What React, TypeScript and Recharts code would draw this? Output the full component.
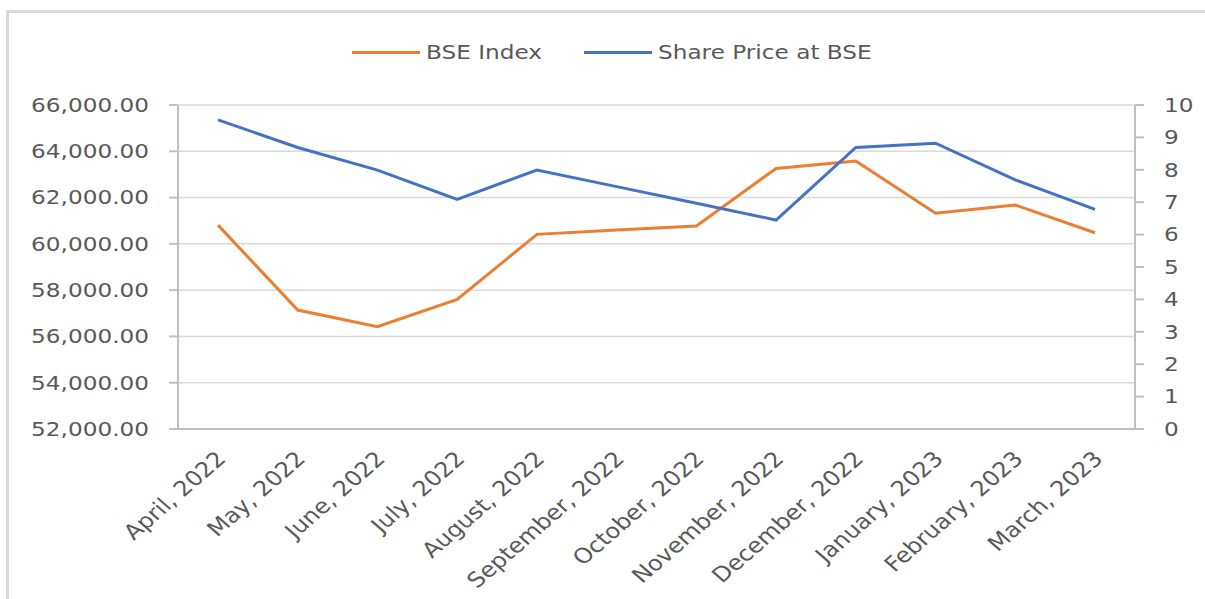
import React from "react";
import { LineChart, Line, XAxis, YAxis, CartesianGrid } from "recharts";

const months = [
  "April, 2022",
  "May, 2022",
  "June, 2022",
  "July, 2022",
  "August, 2022",
  "September, 2022",
  "October, 2022",
  "November, 2022",
  "December, 2022",
  "January, 2023",
  "February, 2023",
  "March, 2023",
];
const bseIndex = [60810, 57140, 56420, 57600, 60410, 60600, 60770, 63260, 63580, 61320, 61680, 60480];
const sharePrice = [9.54, 8.69, 7.99, 7.09, 7.99, 7.48, 6.97, 6.45, 8.69, 8.82, 7.69, 6.78];
const leftTicks = [52000, 54000, 56000, 58000, 60000, 62000, 64000, 66000];
const rightTicks = [0, 1, 2, 3, 4, 5, 6, 7, 8, 9, 10];

const ORANGE = "#ED7D31";
const BLUE = "#4472C4";
const TEXT = "#595959";
const FONT = "'DejaVu Sans', sans-serif";
const STRETCH = 1.22;

const data = months.map((m, i) => ({ month: m, bse: bseIndex[i], price: sharePrice[i] }));

const fmt = (v: number) =>
  v.toLocaleString("en-US", { minimumFractionDigits: 2, maximumFractionDigits: 2 });

const LeftTick = ({ x, y, payload }: any) => (
  <text
    transform={`translate(${x},${y}) scale(${STRETCH},1)`}
    textAnchor="end"
    dy="0.36em"
    fill={TEXT}
    fontSize={19}
    fontFamily={FONT}
  >
    {fmt(payload.value)}
  </text>
);

const RightTick = ({ x, y, payload }: any) => (
  <text
    transform={`translate(${x},${y}) scale(${STRETCH},1)`}
    textAnchor="start"
    dy="0.36em"
    fill={TEXT}
    fontSize={19}
    fontFamily={FONT}
  >
    {payload.value}
  </text>
);

const MonthTick = ({ x, y, payload }: any) => (
  <text
    transform={`translate(${x + 9},${y + 31}) scale(1.15,1) rotate(-45)`}
    textAnchor="end"
    fill={TEXT}
    fontSize={21}
    fontFamily={FONT}
  >
    {payload.value}
  </text>
);

// legend drawn as plain html above the plot
const LegendBox = () => {
  const items = [
    { name: "BSE Index", color: ORANGE, w: 118 },
    { name: "Share Price at BSE", color: BLUE, w: 223 },
  ];
  return (
    <div
      style={{
        position: "absolute",
        top: 40,
        left: 352,
        display: "flex",
        alignItems: "center",
        fontFamily: FONT,
        height: 24,
      }}
    >
      {items.map((it) => (
        <div key={it.name} style={{ display: "flex", alignItems: "center", marginRight: 40 }}>
          <div style={{ width: 68, height: 3, background: it.color, marginRight: 6 }} />
          <div style={{ width: it.w, whiteSpace: "nowrap" }}>
            <span
              style={{
                display: "inline-block",
                fontSize: 19,
                color: TEXT,
                transform: `scaleX(${STRETCH})`,
                transformOrigin: "left center",
              }}
            >
              {it.name}
            </span>
          </div>
        </div>
      ))}
    </div>
  );
};

export default function App() {
  return (
    <div
      style={{
        position: "fixed",
        left: 0,
        top: 0,
        width: 1205,
        height: 599,
        overflow: "hidden",
        background: "#fff",
      }}
    >
      <div
        style={{
          position: "absolute",
          left: 6,
          top: 10,
          width: 1400,
          height: 800,
          border: "3px solid #d9d9d9",
        }}
      />
      <LegendBox />
      <div style={{ position: "absolute", left: 0, top: 0 }}>
        <LineChart width={1205} height={599} data={data} margin={{ top: 105, right: 0, bottom: 0, left: 0 }}>
          <CartesianGrid yAxisId="left" vertical={false} stroke="#d9d9d9" strokeWidth={1.5} />
          <XAxis
            dataKey="month"
            height={170}
            padding={{ left: 40, right: 40 }}
            tickLine={false}
            tickSize={0}
            tickMargin={0}
            axisLine={{ stroke: "#bfbfbf", strokeWidth: 2 }}
            tick={<MonthTick />}
            interval={0}
          />
          <YAxis
            yAxisId="left"
            width={178}
            domain={[52000, 66000]}
            ticks={leftTicks}
            tickSize={9}
            tickMargin={20}
            axisLine={{ stroke: "#bfbfbf", strokeWidth: 2 }}
            tickLine={{ stroke: "#bfbfbf", strokeWidth: 2 }}
            tick={<LeftTick />}
            interval={0}
          />
          <YAxis
            yAxisId="right"
            orientation="right"
            width={70}
            domain={[0, 10]}
            ticks={rightTicks}
            tickSize={9}
            tickMargin={20}
            axisLine={{ stroke: "#bfbfbf", strokeWidth: 2 }}
            tickLine={{ stroke: "#bfbfbf", strokeWidth: 2 }}
            tick={<RightTick />}
            interval={0}
          />
          <Line
            yAxisId="left"
            dataKey="bse"
            name="BSE Index"
            stroke={ORANGE}
            strokeWidth={3}
            dot={false}
            isAnimationActive={false}
          />
          <Line
            yAxisId="right"
            dataKey="price"
            name="Share Price at BSE"
            stroke={BLUE}
            strokeWidth={3}
            dot={false}
            isAnimationActive={false}
          />
        </LineChart>
      </div>
    </div>
  );
}
